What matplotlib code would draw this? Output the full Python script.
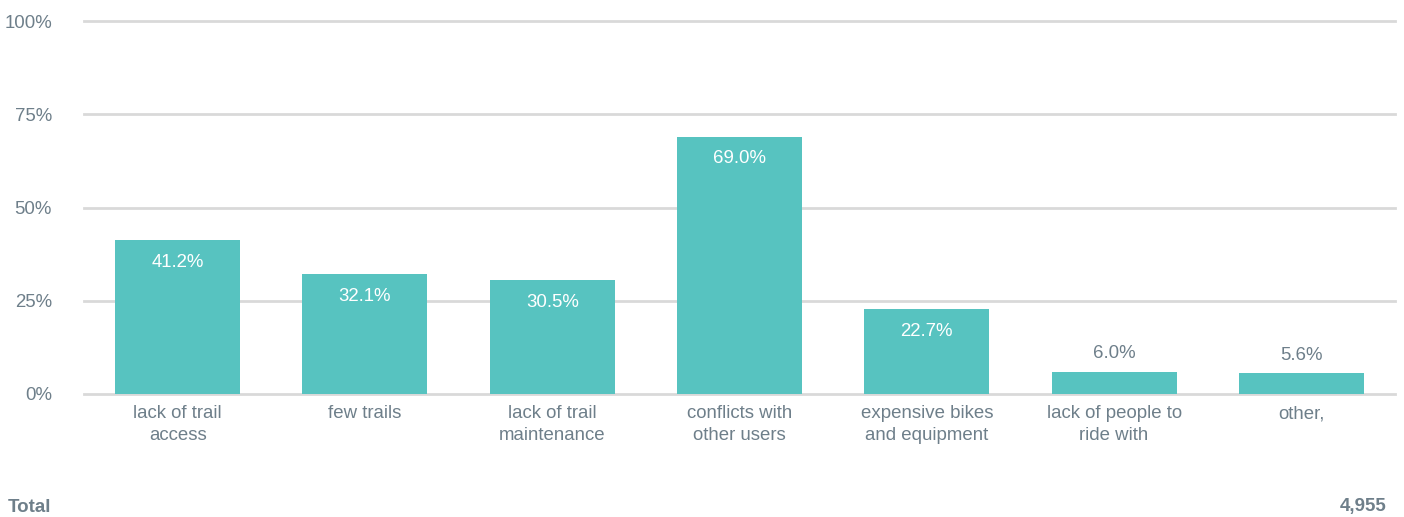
import matplotlib
matplotlib.use("Agg")
from matplotlib import pyplot as plt
import numpy as np

categories = ["lack of trail\naccess", "few trails", "lack of trail\nmaintenance",
              "conflicts with\nother users", "expensive bikes\nand equipment",
              "lack of people to\nride with", "other,"]
values = [41.2, 32.1, 30.5, 69.0, 22.7, 6.0, 5.6]
yticks = [0, 25, 50, 75, 100]
ytick_labels = ["0%", "25%", "50%", "75%", "100%"]
total_label = "Total"
total_value = "4,955"

bar_color = "#57C3C0"
text_color = "#6E7F8A"
grid_color = "#D9D9D9"
fs = 13.4

plt.rcParams['font.family'] = ['Liberation Sans', 'DejaVu Sans']

fig = plt.figure(figsize=(14.04, 5.17), dpi=100)
ax = fig.add_axes([84/1404, 123/517, 1311/1404, 373/517])

x = np.arange(len(categories))
ax.bar(x, values, width=0.667, color=bar_color, zorder=3)
ax.set_xlim(-0.5, len(categories) - 0.5)
ax.set_ylim(0, 100)

for yt in yticks:
    ax.axhline(yt, color=grid_color, lw=2, zorder=1, clip_on=False)

ax.set_yticks(yticks)
ax.set_yticklabels(ytick_labels)
ax.set_xticks(x)
ax.set_xticklabels(categories, linespacing=1.4)
ax.tick_params(axis='both', length=0, labelsize=fs, colors=text_color)
ax.tick_params(axis='y', pad=23)
ax.tick_params(axis='x', pad=8)
for s in ax.spines.values():
    s.set_visible(False)

for xi, v in zip(x, values):
    label = "{:.1f}%".format(v)
    if v > 15:
        ax.annotate(label, (xi, v), xytext=(0, -22), textcoords='offset pixels',
                    ha='center', va='center', color='white', fontsize=fs, zorder=4)
    else:
        ax.annotate(label, (xi, v), xytext=(0, 18), textcoords='offset pixels',
                    ha='center', va='center', color=text_color, fontsize=fs, zorder=4)

fig.text(8/1404, 1 - 507/517, total_label, ha='left', va='center',
         fontsize=13.5, fontweight='bold', color=text_color)
fig.text(1386/1404, 1 - 507/517, total_value, ha='right', va='center',
         fontsize=13.5, fontweight='bold', color=text_color)

fig.savefig("out.png", dpi=100)
